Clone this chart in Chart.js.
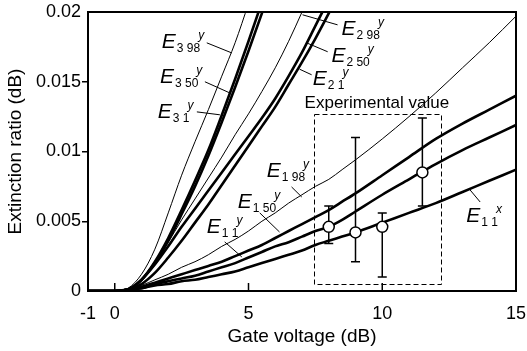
<!DOCTYPE html>
<html><head><meta charset="utf-8">
<script src="https://cdn.jsdelivr.net/npm/chart.js@4/dist/chart.umd.min.js"></script>
<style>html,body{margin:0;padding:0;background:#fff}#wrap{width:527px;height:351px}</style>
</head><body><div id="wrap"><canvas id="c" width="527" height="351"></canvas></div>
<script>
// ---- data ----
const xs = [-1, 0, 0.5, 1, 1.5, 2, 2.5, 3, 3.5, 4, 4.5, 5, 5.5, 6, 6.5, 7, 7.5, 8, 8.5, 9, 10, 11, 12, 13, 14, 15];
const E3_98y = [0, 0, 0.0002, 0.0012, 0.0030, 0.0056, 0.0083, 0.0107, 0.0130, 0.0154, 0.0178, 0.0206, 0.0235];
const E3_50y = [0, 0, 0.0001, 0.0008, 0.0021, 0.0038, 0.0058, 0.0079, 0.0101, 0.0126, 0.0152, 0.0179, 0.0207, 0.0236];
const E3_1y  = [0, 0, 0.0001, 0.0008, 0.0020, 0.0036, 0.0055, 0.0075, 0.0097, 0.0121, 0.0146, 0.0172, 0.0199, 0.0227];
const E2_98y = [0, 0, 0.0002, 0.0009, 0.0021, 0.0035, 0.0051, 0.0066, 0.0081, 0.0096, 0.0112, 0.0127, 0.0143, 0.0160, 0.0179, 0.0200, 0.0222];
const E2_50y = [0, 0, 0.0001, 0.0008, 0.0019, 0.0032, 0.0046, 0.0059, 0.0072, 0.0085, 0.0098, 0.0111, 0.0124, 0.0138, 0.0154, 0.0171, 0.0190, 0.0209];
const E2_1y  = [0, 0, 0.0001, 0.0005, 0.0013, 0.0024, 0.0036, 0.0049, 0.0062, 0.0076, 0.0090, 0.0104, 0.0118, 0.0132, 0.0148, 0.0164, 0.0181, 0.0199, 0.0217];
const E1_98y = [0, 0, 0.0001, 0.0004, 0.0008, 0.0012, 0.0017, 0.0021, 0.0026, 0.0032, 0.0037, 0.0043, 0.0050, 0.0056, 0.0063, 0.0069, 0.0075, 0.0080, 0.0087, 0.0094, 0.0109, 0.0125, 0.0142, 0.0160, 0.0178, 0.0197];
const E1_50y = [0, 0, 0.0001, 0.0003, 0.0006, 0.0009, 0.0012, 0.0015, 0.0018, 0.0021, 0.0025, 0.0029, 0.0033, 0.0038, 0.0043, 0.0048, 0.0053, 0.0058, 0.0064, 0.0070, 0.0083, 0.0096, 0.0109, 0.0120, 0.0130, 0.0140];
const E1_1y  = [0, 0, 0.0001, 0.0002, 0.0005, 0.0007, 0.0009, 0.0011, 0.0014, 0.0017, 0.0020, 0.0024, 0.0028, 0.0032, 0.0035, 0.0039, 0.0043, 0.0046, 0.0051, 0.0057, 0.0069, 0.0080, 0.0091, 0.0101, 0.0110, 0.0119];
const E1_1x  = [0, 0, 0.0001, 0.0002, 0.0004, 0.0005, 0.0007, 0.0008, 0.0010, 0.0012, 0.0014, 0.0017, 0.0020, 0.0023, 0.0026, 0.0029, 0.0033, 0.0036, 0.0039, 0.0042, 0.0049, 0.0056, 0.0063, 0.0071, 0.0079, 0.0087];

const expX    = [8, 9, 10, 11.5];
const expY    = [0.0046, 0.0042, 0.0046, 0.0085];
const expLow  = [0.0034, 0.0021, 0.0010, 0.0061];
const expHigh = [0.0061, 0.0110, 0.0056, 0.0124];

const xTickValues = [-1, 0, 5, 10, 15];
const yTickValues = [0, 0.005, 0.01, 0.015, 0.02];

// ---- annotations (data coordinates) ----
const curveNotes = [
  {sub:'3 98', sup:'y', at:[1.76, 0.01743], from:[3.44, 0.01779], to:[4.37, 0.01707]},
  {sub:'3 50', sup:'y', at:[1.69, 0.01492], from:[3.37, 0.01500], to:[4.30, 0.01420]},
  {sub:'3 1',  sup:'y', at:[1.61, 0.01241], from:[3.07, 0.01284], to:[3.93, 0.01263]},
  {sub:'2 98', sup:'y', at:[8.48, 0.01837], from:[8.33, 0.01908], to:[7.02, 0.01980]},
  {sub:'2 50', sup:'y', at:[8.10, 0.01643], from:[7.96, 0.01715], to:[7.17, 0.01779]},
  {sub:'2 1',  sup:'y', at:[7.40, 0.01478], from:[7.36, 0.01550], to:[6.91, 0.01590]},
  {sub:'1 98', sup:'y', at:[5.68, 0.00818], from:[6.61, 0.00746], to:[6.99, 0.00674]},
  {sub:'1 50', sup:'y', at:[4.60, 0.00595], from:[5.42, 0.00560], to:[6.16, 0.00423]},
  {sub:'1 1',  sup:'y', at:[3.44, 0.00416], from:[4.11, 0.00352], to:[4.75, 0.00244]},
  {sub:'1 1',  sup:'x', at:[13.14, 0.00495], from:[13.66, 0.00638], to:[13.25, 0.00732]}
];
const expBox = {x0:7.43, x1:12.17, y0:0.0005, y1:0.0127};
const expText = {text:'Experimental value', at:[9.8, 0.0131]};

const FONT = '"Liberation Sans", Arial, sans-serif';
const THICK = 2.6, THIN = 1;

function series(arr){ return arr.map((v,i)=>({x:xs[i], y:v})); }
function lineDs(arr, w){
  return {type:'line', data:series(arr), borderColor:'#000', borderWidth:w, pointRadius:0,
          cubicInterpolationMode:'monotone', fill:false, borderCapStyle:'butt'};
}

const overlay = {
  id:'overlay',
  beforeDatasetsDraw(chart){
    const {ctx, scales:{x, y}} = chart;
    ctx.save();
    ctx.strokeStyle = '#000'; ctx.lineWidth = 1.5;
    expX.forEach((v,i)=>{
      const px = x.getPixelForValue(v);
      const pl = y.getPixelForValue(expLow[i]);
      const ph = y.getPixelForValue(expHigh[i]);
      ctx.beginPath();
      ctx.moveTo(px, pl); ctx.lineTo(px, ph);
      ctx.moveTo(px-4.5, pl); ctx.lineTo(px+4.5, pl);
      ctx.moveTo(px-4.5, ph); ctx.lineTo(px+4.5, ph);
      ctx.stroke();
    });
    ctx.restore();
  },
  afterDatasetsDraw(chart){
    const {ctx, chartArea:a, scales:{x, y}} = chart;
    ctx.save();
    ctx.strokeStyle = '#000'; ctx.lineWidth = 2;
    ctx.strokeRect(a.left, a.top, a.right - a.left, a.bottom - a.top);
    ctx.lineWidth = 1.5;
    [0, 5, 10].forEach(v=>{
      const px = x.getPixelForValue(v);
      ctx.beginPath(); ctx.moveTo(px, a.bottom); ctx.lineTo(px, a.bottom - 8); ctx.stroke();
    });
    ctx.lineWidth = 1; ctx.setLineDash([5,3]);
    const bx0 = x.getPixelForValue(expBox.x0), bx1 = x.getPixelForValue(expBox.x1);
    const by0 = y.getPixelForValue(expBox.y0), by1 = y.getPixelForValue(expBox.y1);
    ctx.strokeRect(Math.round(bx0)+0.5, Math.round(by1)+0.5, Math.round(bx1-bx0), Math.round(by0-by1));
    ctx.setLineDash([]);
    ctx.fillStyle = '#000';
    ctx.font = '17px ' + FONT; ctx.textAlign = 'center'; ctx.textBaseline = 'alphabetic';
    ctx.fillText(expText.text, x.getPixelForValue(expText.at[0]), y.getPixelForValue(expText.at[1]));
    ctx.textAlign = 'left';
    curveNotes.forEach(n=>{
      ctx.lineWidth = 1;
      ctx.beginPath();
      ctx.moveTo(x.getPixelForValue(n.from[0]), y.getPixelForValue(n.from[1]));
      ctx.lineTo(x.getPixelForValue(n.to[0]), y.getPixelForValue(n.to[1]));
      ctx.stroke();
      const px = x.getPixelForValue(n.at[0]), py = y.getPixelForValue(n.at[1]);
      ctx.font = 'italic 21px ' + FONT;
      ctx.fillText('E', px, py);
      const w = ctx.measureText('E').width;
      ctx.font = '12px ' + FONT;
      ctx.fillText(n.sub, px + w + 1, py + 4);
      const w2 = ctx.measureText(n.sub).width;
      ctx.font = 'italic 12px ' + FONT;
      ctx.fillText(n.sup, px + w + w2 - 1, py - 8.5);
    });
    ctx.restore();
  }
};

new Chart(document.getElementById('c'), {
  data:{
    datasets:[
      {type:'scatter', data:expX.map((v,i)=>({x:v, y:expY[i]})), pointRadius:5.5, pointHoverRadius:5.5,
       pointBackgroundColor:'#fff', pointBorderColor:'#000', pointBorderWidth:1.5, showLine:false},
      lineDs(E3_98y, THIN), lineDs(E3_50y, THICK), lineDs(E3_1y, THICK),
      lineDs(E2_98y, THIN), lineDs(E2_50y, THICK), lineDs(E2_1y, THICK),
      lineDs(E1_98y, THIN), lineDs(E1_50y, THICK), lineDs(E1_1y, THICK), lineDs(E1_1x, THICK)
    ]
  },
  options:{
    responsive:false, animation:false, devicePixelRatio:1,
    layout:{padding:{top:12, right:11, left:0, bottom:0}},
    plugins:{legend:{display:false}, tooltip:{enabled:false}},
    scales:{
      x:{type:'linear', min:-1, max:15,
         afterBuildTicks:s=>{ s.ticks = xTickValues.map(v=>({value:v})); },
         afterFit:s=>{ s.height = 60; s.paddingLeft = 0; s.paddingRight = 0; },
         grid:{display:false, drawTicks:false}, border:{display:false},
         ticks:{padding:12, color:'#000', font:{family:FONT, size:18}, maxRotation:0, callback:v=>String(v)},
         title:{display:true, text:'Gate voltage (dB)', color:'#000', font:{family:FONT, size:19}, padding:{top:0, bottom:3}}},
      y:{type:'linear', min:0, max:0.02,
         afterBuildTicks:s=>{ s.ticks = yTickValues.map(v=>({value:v})); },
         afterFit:s=>{ s.width = 88; s.paddingTop = 0; s.paddingBottom = 0; },
         grid:{display:true, drawOnChartArea:false, drawTicks:true, tickLength:6, lineWidth:1.5,
               color:c=> (c.tick && (c.tick.value === 0 || c.tick.value === 0.02)) ? 'rgba(0,0,0,0)' : '#000'},
         border:{display:false},
         ticks:{padding:1, color:'#000', font:{family:FONT, size:18}, callback:v=>String(v)},
         title:{display:true, text:'Extinction ratio (dB)', color:'#000', font:{family:FONT, size:19}, padding:{top:4, bottom:0}}}
    }
  },
  plugins:[overlay]
});
</script></body></html>
